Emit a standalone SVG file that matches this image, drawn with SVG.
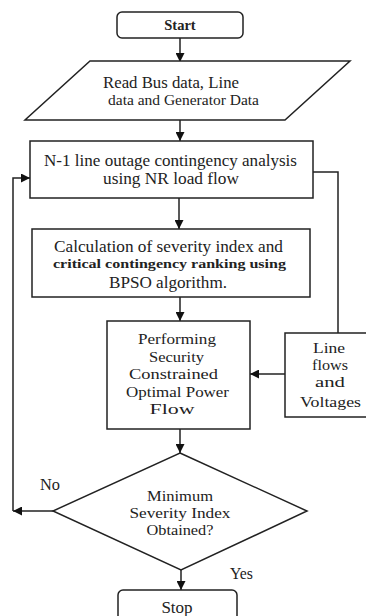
<svg xmlns="http://www.w3.org/2000/svg" width="366" height="616" viewBox="0 0 366 616">
<style>
.s{fill:#fff;stroke:#222;stroke-width:1.5}
.c{fill:none;stroke:#222;stroke-width:1.5}
text{font-family:"Times New Roman",Times,"Liberation Serif",Tinos,"Nimbus Roman","Noto Serif","DejaVu Serif",FreeSerif,serif;font-size:17px;fill:#222;text-anchor:middle}
.m{font-size:15.5px}
.b{font-weight:bold}
</style>
<defs>
<marker id="ah" viewBox="0 0 10 10" refX="10" refY="5" markerWidth="9" markerHeight="9" markerUnits="userSpaceOnUse" orient="auto">
<path d="M0,0 L10,5 L0,10 z" fill="#111"/>
</marker>
</defs>
<rect width="366" height="616" fill="#fff"/>
<g id="connectors">
<line class="c" x1="180" y1="38" x2="180" y2="62" marker-end="url(#ah)"/>
<line class="c" x1="180" y1="120" x2="180" y2="141" marker-end="url(#ah)"/>
<line class="c" x1="179" y1="198" x2="179" y2="229" marker-end="url(#ah)"/>
<line class="c" x1="180" y1="297" x2="180" y2="321" marker-end="url(#ah)"/>
<line class="c" x1="180" y1="429" x2="180" y2="453" marker-end="url(#ah)"/>
<line class="c" x1="181" y1="570" x2="181" y2="590" marker-end="url(#ah)"/>
<polyline class="c" points="313,172 338,172 338,333"/>
<line class="c" x1="285" y1="374" x2="250" y2="374" marker-end="url(#ah)"/>
<line class="c" x1="53" y1="511" x2="13" y2="511" marker-end="url(#ah)"/>
<polyline class="c" points="13,511 13,178 30,178" marker-end="url(#ah)"/>
</g>
<g id="start">
<rect class="s" x="117" y="12" width="126" height="26" rx="5"/>
<text class="b" x="180" y="30" style="font-size:14.5px">Start</text>
</g>
<g id="read">
<polygon class="s" points="90,61 350,61 285,120 25,120"/>
<text x="103" y="87.5" style="text-anchor:start" textLength="136" lengthAdjust="spacingAndGlyphs">Read Bus data, Line</text>
<text x="108" y="105" style="text-anchor:start;font-size:15px" textLength="151" lengthAdjust="spacingAndGlyphs">data and Generator Data</text>
</g>
<g id="n1">
<rect class="s" x="30" y="141" width="283" height="57"/>
<text x="170.5" y="165.5" textLength="253" lengthAdjust="spacingAndGlyphs">N-1 line outage contingency analysis</text>
<text x="171" y="183.5" textLength="136" lengthAdjust="spacingAndGlyphs">using NR load flow</text>
</g>
<g id="calc">
<rect class="s" x="32" y="229" width="278" height="68"/>
<text x="168.5" y="251.5" textLength="229" lengthAdjust="spacingAndGlyphs">Calculation of severity index and</text>
<text class="b" x="169.5" y="268" style="font-size:13px" textLength="233" lengthAdjust="spacingAndGlyphs">critical contingency ranking using</text>
<text x="168" y="287.5" textLength="118" lengthAdjust="spacingAndGlyphs">BPSO algorithm.</text>
</g>
<g id="scopf">
<rect class="s" x="107" y="321" width="143" height="108"/>
<text class="m" x="177" y="343.5" textLength="78" lengthAdjust="spacingAndGlyphs">Performing</text>
<text class="m" x="176.5" y="362" textLength="55" lengthAdjust="spacingAndGlyphs">Security</text>
<text x="173.5" y="378.5" style="font-size:14px" textLength="89" lengthAdjust="spacingAndGlyphs">Constrained</text>
<text class="m" x="177.5" y="397" textLength="103" lengthAdjust="spacingAndGlyphs">Optimal Power</text>
<text class="m" x="172" y="414" textLength="45" lengthAdjust="spacingAndGlyphs">Flow</text>
</g>
<g id="lineflows">
<rect class="s" x="285" y="333" width="84" height="84"/>
<text class="m" x="329" y="353" textLength="32" lengthAdjust="spacingAndGlyphs">Line</text>
<text class="m" x="330" y="370" textLength="36" lengthAdjust="spacingAndGlyphs">flows</text>
<text class="m" x="330" y="387" textLength="30" lengthAdjust="spacingAndGlyphs">and</text>
<text x="330.5" y="407" style="font-size:14px" textLength="61" lengthAdjust="spacingAndGlyphs">Voltages</text>
</g>
<g id="decision">
<polygon class="s" points="180,453 307,511 181,570 53,511"/>
<text class="m" x="180" y="500.5" textLength="66" lengthAdjust="spacingAndGlyphs">Minimum</text>
<text class="m" x="180" y="517.5" textLength="101" lengthAdjust="spacingAndGlyphs">Severity Index</text>
<text class="m" x="180" y="535" textLength="67" lengthAdjust="spacingAndGlyphs">Obtained?</text>
</g>
<g id="labels">
<text x="50" y="489.5" textLength="20" lengthAdjust="spacingAndGlyphs">No</text>
<text x="241.5" y="578.5" textLength="23" lengthAdjust="spacingAndGlyphs">Yes</text>
</g>
<g id="stop">
<rect class="s" x="118" y="590" width="119" height="40" rx="5"/>
<text x="177" y="612.5">Stop</text>
</g>
</svg>
